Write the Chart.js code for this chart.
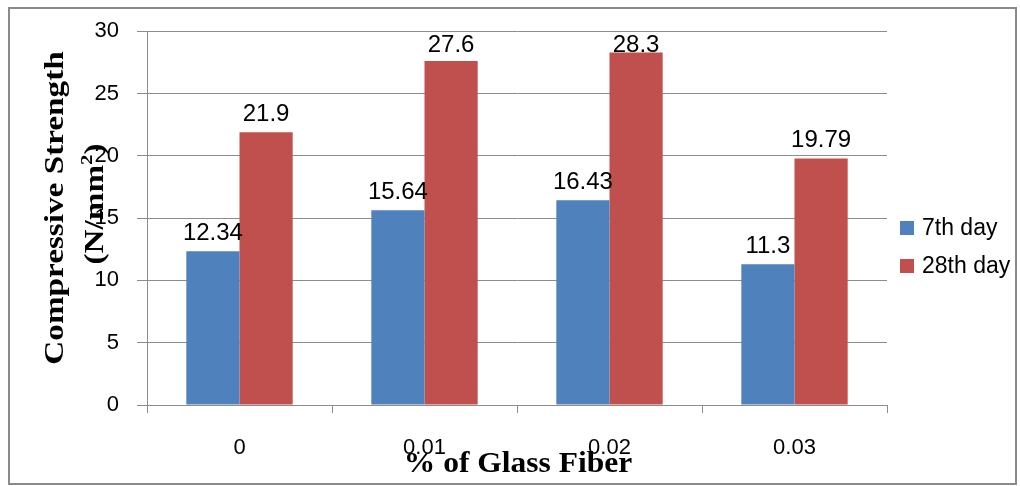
<!DOCTYPE html>
<html>
<head>
<meta charset="utf-8">
<script src="https://cdn.jsdelivr.net/npm/chart.js@4/dist/chart.umd.min.js"></script>
<style>
  html, body { margin: 0; padding: 0; background: #fff; }
  #wrap { position: relative; width: 1020px; height: 486px; }
</style>
</head>
<body>
<div id="wrap"><canvas id="chartCanvas" width="1020" height="486"></canvas></div>
<script>
const categories = ["0", "0.01", "0.02", "0.03"];
const day7 = [12.34, 15.64, 16.43, 11.3];
const day28 = [21.9, 27.6, 28.3, 19.79];
const seriesNames = ["7th day", "28th day"];
const yTicks = [0, 5, 10, 15, 20, 25, 30];

const blue = "#4F81BD";
const red = "#C0504D";
const gridGray = "#8C8C8C";
const sans = "'Liberation Sans', Arial, sans-serif";
const serif = "'Liberation Serif', 'Times New Roman', serif";

// draws text stretched along its own direction
function stretchedText(ctx, text, x, y, sx) {
    ctx.save();
    ctx.translate(x, y);
    ctx.scale(sx, 1);
    ctx.fillText(text, 0, 0);
    ctx.restore();
}

// frame, axis titles, value labels, legend
const extras = {
    id: "extras",
    beforeDraw(chart) {
        const ctx = chart.ctx;
        ctx.save();
        ctx.fillStyle = "#fff";
        ctx.fillRect(0, 0, chart.width, chart.height);
        ctx.strokeStyle = "#8a8a8a";
        ctx.lineWidth = 2;
        ctx.strokeRect(9, 8, 1007, 476);
        ctx.restore();
    },
    afterDatasetsDraw(chart) {
        const ctx = chart.ctx;
        const top = chart.chartArea.top;
        ctx.save();
        ctx.fillStyle = "#000";
        ctx.font = "24px " + sans;
        ctx.textAlign = "center";
        ctx.textBaseline = "alphabetic";
        chart.data.datasets.forEach((ds, i) => {
            chart.getDatasetMeta(i).data.forEach((bar, j) => {
                const y = Math.max(bar.y - 11, top + 21);
                ctx.fillText(String(ds.data[j]), bar.x, y);
            });
        });
        ctx.restore();
    },
    afterDraw(chart) {
        const ctx = chart.ctx;
        ctx.save();
        ctx.fillStyle = "#000";
        ctx.textBaseline = "alphabetic";

        // x axis title
        ctx.font = "bold 30px " + serif;
        ctx.textAlign = "center";
        stretchedText(ctx, "% of Glass Fiber", 518, 472, 1.05);

        // y axis title, two lines
        const sx = 1.23;
        ctx.translate(0, 208);
        ctx.rotate(-Math.PI / 2);
        ctx.font = "bold 27px " + serif;
        stretchedText(ctx, "Compressive Strength", 0, 63, sx);

        ctx.textAlign = "left";
        const big = "bold 27px " + serif;
        const small = "bold 17px " + serif;
        ctx.font = big;
        const w1 = ctx.measureText("(N/mm").width;
        const w3 = ctx.measureText(")").width;
        ctx.font = small;
        const w2 = ctx.measureText("2").width;
        let u = 4 - (w1 + w2 + w3) * sx / 2;
        ctx.font = big;
        stretchedText(ctx, "(N/mm", u, 103, sx);
        u += w1 * sx;
        ctx.font = small;
        stretchedText(ctx, "2", u, 92, sx);
        u += w2 * sx;
        ctx.font = big;
        stretchedText(ctx, ")", u, 103, sx);
        ctx.restore();

        // legend
        ctx.save();
        ctx.font = "23px " + sans;
        ctx.textBaseline = "middle";
        const colors = [blue, red];
        seriesNames.forEach((name, i) => {
            const y = 228 + i * 38;
            ctx.fillStyle = colors[i];
            ctx.fillRect(900, y - 7, 14, 14);
            ctx.fillStyle = "#000";
            ctx.fillText(name, 922, y + 1);
        });
        ctx.restore();
    }
};

new Chart(document.getElementById("chartCanvas"), {
    type: "bar",
    data: {
        labels: categories,
        datasets: [
            { label: seriesNames[0], data: day7, backgroundColor: blue },
            { label: seriesNames[1], data: day28, backgroundColor: red }
        ]
    },
    options: {
        responsive: false,
        animation: false,
        devicePixelRatio: 1,
        layout: { padding: { top: 26, right: 133, bottom: 0, left: 0 } },
        plugins: { legend: { display: false }, tooltip: { enabled: false } },
        datasets: { bar: { barPercentage: 1, categoryPercentage: 0.575 } },
        scales: {
            x: {
                afterFit(scale) { scale.height = 81; },
                grid: { drawOnChartArea: false, drawTicks: true, tickLength: 8, color: gridGray, offset: true },
                border: { color: gridGray, width: 1 },
                ticks: { color: "#000", font: { size: 22, family: sans }, padding: 22 }
            },
            y: {
                min: 0,
                max: 30,
                afterFit(scale) { scale.width = 147; },
                afterBuildTicks(scale) { scale.ticks = yTicks.map(v => ({ value: v })); },
                grid: { color: gridGray, tickLength: 10 },
                border: { color: gridGray, width: 1 },
                ticks: { color: "#000", font: { size: 22, family: sans }, padding: 18 }
            }
        }
    },
    plugins: [extras]
});
</script>
</body>
</html>
